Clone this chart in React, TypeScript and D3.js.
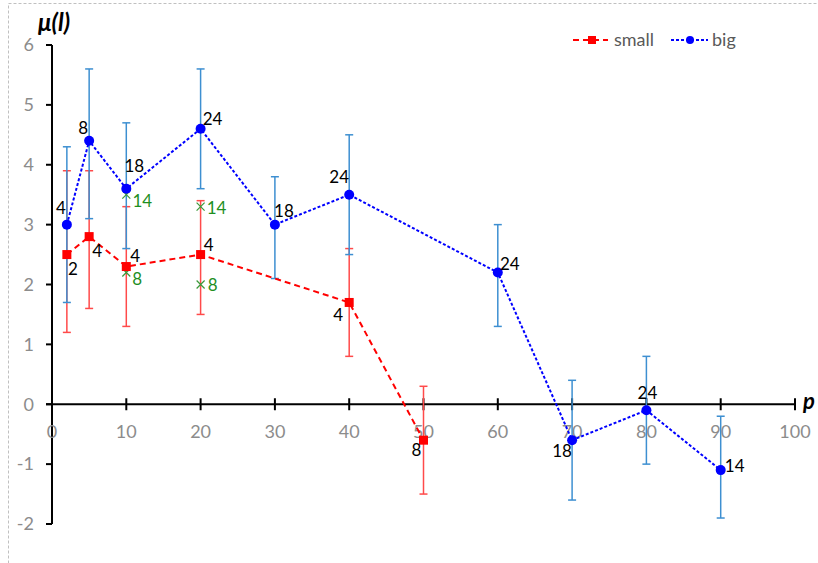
import { useEffect, useRef } from 'react';
import * as d3 from 'd3';

// big series
const bigP = [2, 5, 10, 20, 30, 40, 60, 70, 80, 90];
const bigMu = [3.0, 4.4, 3.6, 4.6, 3.0, 3.5, 2.2, -0.6, -0.1, -1.1];
const bigHi = [4.3, 5.6, 4.7, 5.6, 3.8, 4.5, 3.0, 0.4, 0.8, -0.2];
const bigLo = [1.7, 3.1, 2.6, 3.6, 2.1, 2.5, 1.3, -1.6, -1.0, -1.9];
const bigN = ['4', '8', '18', '24', '18', '24', '24', '18', '24', '14'];

// small series
const smallP = [2, 5, 10, 20, 40, 50];
const smallMu = [2.5, 2.8, 2.3, 2.5, 1.7, -0.6];
const smallHi = [3.9, 3.9, 3.3, 3.4, 2.6, 0.3];
const smallLo = [1.2, 1.6, 1.3, 1.5, 0.8, -1.5];
const smallN = ['2', '4', '4', '4', '4', '8'];

// extra (green x) points
const extraP = [10, 10, 20, 20];
const extraMu = [3.5, 2.2, 3.3, 2.0];
const extraN = ['14', '8', '14', '8'];

const xTicks = [0, 10, 20, 30, 40, 50, 60, 70, 80, 90, 100];
const yTicks = [-2, -1, 0, 1, 2, 3, 4, 5, 6];

// label offsets (px) from the point
const bigOff = [[-6, -17], [-6, -13], [8, -23], [12, -10], [9, -14], [-10, -18], [12, -8], [-10, 11], [1, -17], [14, -4]];
const smallOff = [[6, 14], [8, 14], [9, -10], [8, -10], [-11, 13], [-7, 10]];
const extraOff = [[16, 6], [11, 7], [16, 1], [12, 1]];

const W = 818;
const H = 563;
const FONT = 'Lato, "Open Sans", sans-serif';

export default function App() {
  const svgRef = useRef(null);

  useEffect(() => {
    const svg = d3.select(svgRef.current);
    svg.selectAll('*').remove();

    const x = d3.scaleLinear().domain([0, 100]).range([52, 795]);
    const y = d3.scaleLinear().domain([-2, 6]).range([524, 45]);

    // outer dashed frame
    svg.append('rect')
      .attr('x', 8.5).attr('y', 3.5)
      .attr('width', 840).attr('height', 620)
      .attr('fill', 'none')
      .attr('stroke', '#c0c0c0')
      .attr('stroke-dasharray', '3,2');

    // y axis
    svg.append('line')
      .attr('x1', x(0)).attr('x2', x(0))
      .attr('y1', y(6)).attr('y2', y(-2))
      .attr('stroke', '#000').attr('stroke-width', 2);
    svg.selectAll('.ytick').data(yTicks).enter().append('line')
      .attr('x1', x(0) - 6).attr('x2', x(0))
      .attr('y1', d => y(d)).attr('y2', d => y(d))
      .attr('stroke', '#000').attr('stroke-width', 2);
    svg.selectAll('.ylab').data(yTicks).enter().append('text')
      .attr('x', 34).attr('y', d => y(d))
      .attr('dy', '0.35em')
      .attr('text-anchor', 'end')
      .attr('font-family', FONT).attr('font-size', 18)
      .attr('fill', '#8c8c8c')
      .text(d => d);

    // x axis
    svg.append('line')
      .attr('x1', x(0) - 6).attr('x2', x(100))
      .attr('y1', y(0)).attr('y2', y(0))
      .attr('stroke', '#000').attr('stroke-width', 2);
    svg.selectAll('.xtick').data(xTicks).enter().append('line')
      .attr('x1', d => x(d)).attr('x2', d => x(d))
      .attr('y1', y(0) - 6).attr('y2', y(0) + 6)
      .attr('stroke', '#000').attr('stroke-width', 2);
    svg.selectAll('.xlab').data(xTicks).enter().append('text')
      .attr('x', d => x(d)).attr('y', y(0) + 27)
      .attr('dy', '0.35em')
      .attr('text-anchor', 'middle')
      .attr('font-family', FONT).attr('font-size', 18)
      .attr('fill', '#8c8c8c')
      .text(d => d);

    // axis titles
    svg.append('text')
      .attr('x', 38).attr('y', 31)
      .attr('font-family', FONT).attr('font-size', 24)
      .attr('font-weight', 'bold').attr('font-style', 'italic')
      .text('μ(l)');
    svg.append('text')
      .attr('x', 803).attr('y', 409)
      .attr('font-family', FONT).attr('font-size', 22)
      .attr('font-weight', 'bold').attr('font-style', 'italic')
      .text('p');

    const errBars = (ps, lo, hi, color) => {
      const g = svg.append('g').attr('stroke', color).attr('stroke-width', 1.5);
      ps.forEach((p, i) => {
        g.append('line').attr('x1', x(p)).attr('x2', x(p)).attr('y1', y(lo[i])).attr('y2', y(hi[i]));
        [lo[i], hi[i]].forEach(v => {
          g.append('line').attr('x1', x(p) - 4).attr('x2', x(p) + 4).attr('y1', y(v)).attr('y2', y(v));
        });
      });
    };
    errBars(smallP, smallLo, smallHi, '#ff4a4a');
    errBars(bigP, bigLo, bigHi, '#3d8fd1');

    const line = d3.line().x(d => x(d[0])).y(d => y(d[1]));
    svg.append('path')
      .attr('d', line(smallP.map((p, i) => [p, smallMu[i]])))
      .attr('fill', 'none').attr('stroke', '#ff0000')
      .attr('stroke-width', 2).attr('stroke-dasharray', '6,4');
    svg.append('path')
      .attr('d', line(bigP.map((p, i) => [p, bigMu[i]])))
      .attr('fill', 'none').attr('stroke', '#0000ff')
      .attr('stroke-width', 2).attr('stroke-dasharray', '3,2');

    // green x markers
    extraP.forEach((p, i) => {
      const cx = x(p), cy = y(extraMu[i]);
      svg.append('path')
        .attr('d', `M${cx - 4},${cy - 4}L${cx + 4},${cy + 4}M${cx - 4},${cy + 4}L${cx + 4},${cy - 4}`)
        .attr('stroke', '#3a9a3a').attr('stroke-width', 1.2);
    });

    // markers
    svg.selectAll('.sq').data(smallP).enter().append('rect')
      .attr('x', (d) => x(d) - 4.5).attr('y', (d, i) => y(smallMu[i]) - 4.5)
      .attr('width', 9).attr('height', 9)
      .attr('fill', '#ff0000');
    svg.selectAll('.ci').data(bigP).enter().append('circle')
      .attr('cx', d => x(d)).attr('cy', (d, i) => y(bigMu[i]))
      .attr('r', 5)
      .attr('fill', '#0000ff');

    // data labels
    const labels = (ps, mus, txt, off, color) => {
      ps.forEach((p, i) => {
        svg.append('text')
          .attr('x', x(p) + off[i][0]).attr('y', y(mus[i]) + off[i][1])
          .attr('dy', '0.35em')
          .attr('text-anchor', 'middle')
          .attr('font-family', FONT).attr('font-size', 17)
          .attr('fill', color)
          .text(txt[i]);
      });
    };
    labels(bigP, bigMu, bigN, bigOff, '#000');
    labels(smallP, smallMu, smallN, smallOff, '#000');
    labels(extraP, extraMu, extraN, extraOff, '#1f8f1f');

    // legend
    const lg = svg.append('g').attr('font-family', FONT).attr('font-size', 18).attr('fill', '#595959');
    lg.append('line').attr('x1', 573).attr('x2', 608).attr('y1', 40).attr('y2', 40)
      .attr('stroke', '#ff0000').attr('stroke-width', 2).attr('stroke-dasharray', '6,4');
    lg.append('rect').attr('x', 588).attr('y', 36).attr('width', 8).attr('height', 8).attr('fill', '#ff0000');
    lg.append('text').attr('x', 614).attr('y', 40).attr('dy', '0.35em').text('small');
    lg.append('line').attr('x1', 671).attr('x2', 708).attr('y1', 40).attr('y2', 40)
      .attr('stroke', '#0000ff').attr('stroke-width', 2).attr('stroke-dasharray', '3,2');
    lg.append('circle').attr('cx', 690).attr('cy', 40).attr('r', 4).attr('fill', '#0000ff');
    lg.append('text').attr('x', 712).attr('y', 40).attr('dy', '0.35em').text('big');
  }, []);

  return (
    <svg
      ref={svgRef}
      width={W}
      height={H}
      style={{ position: 'absolute', left: 0, top: 0, background: '#fff' }}
    />
  );
}
